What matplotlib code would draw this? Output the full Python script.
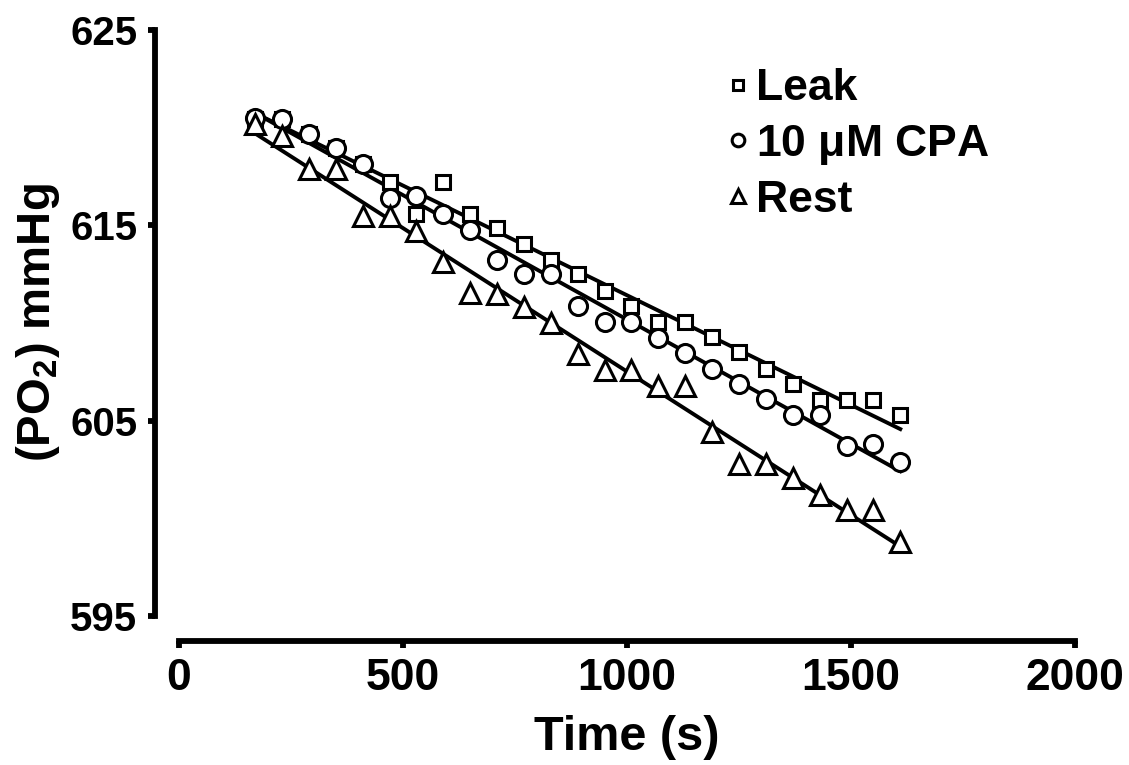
"""
Oxygen consumption traces: PO2 over time for three conditions with linear fits.
"""

import matplotlib
matplotlib.use('Agg')
import matplotlib.pyplot as plt
import numpy as np

plt.rcParams['font.family'] = ['Liberation Sans', 'DejaVu Sans']
plt.rcParams['font.weight'] = 'bold'
plt.rcParams['mathtext.default'] = 'regular'

# Data (time in s, PO2 in mmHg).
time_s = [170, 230, 290, 350, 410, 470, 530, 590, 650, 710, 770, 830, 890,
          950, 1010, 1070, 1130, 1190, 1250, 1310, 1370, 1430, 1490, 1550, 1610]
leak = [620.45, 620.45, 619.66, 618.96, 618.15, 617.24, 615.6, 617.24, 615.6,
        614.85, 614.05, 613.2, 612.5, 611.65, 610.85, 610.05, 610.05, 609.26,
        608.5, 607.66, 606.9, 606.07, 606.07, 606.07, 605.3]
cpa = [620.48, 620.45, 619.66, 618.96, 618.15, 616.4, 616.5, 615.6, 614.77,
       613.2, 612.5, 612.5, 610.85, 610.05, 610.05, 609.23, 608.46, 607.66,
       606.9, 606.1, 605.3, 605.3, 603.7, 603.8, 602.9]
rest = [620.2, 619.55, 617.9, 617.9, 615.5, 615.5, 614.7, 613.1, 611.56,
        611.5, 610.8, 610.0, 608.4, 607.6, 607.6, 606.75, 606.75, 604.4,
        602.8, 602.8, 602.05, 601.2, 600.45, 600.45, 598.8]

labels = ['Leak', r'10 $\mu$M CPA', 'Rest']
markers = ['s', 'o', '^']
msizes = [10, 13, 14]

x_ticks = [0, 500, 1000, 1500, 2000]
y_ticks = [595, 605, 615, 625]

fig = plt.figure(figsize=(11.29, 7.65), dpi=100)
ax = fig.add_axes([179/1129, 1 - 616/765, 896/1129, 586/765])

x = np.array(time_s, dtype=float)
for y, lab, mk, ms in zip([leak, cpa, rest], labels, markers, msizes):
  y = np.array(y)
  ax.plot(x, y, ls='none', marker=mk, ms=ms, mfc='white', mec='black',
          mew=2.2, label=lab, zorder=3)
  # Linear fit drawn across the sampled range.
  m, b = np.polyfit(x, y, 1)
  xf = np.array([x[0], x[-1]])
  ax.plot(xf, m*xf + b, color='black', lw=2.8, zorder=2)

ax.set_xlim(0, 2000)
ax.set_ylim(595, 625)
ax.set_xticks(x_ticks)
ax.set_yticks(y_ticks)

for side in ['top', 'right']:
  ax.spines[side].set_visible(False)
ax.spines['left'].set_position(('outward', 17))
ax.spines['bottom'].set_position(('outward', 18))
ax.spines['left'].set_linewidth(4.2)
ax.spines['bottom'].set_linewidth(4.2)
ax.tick_params(axis='both', width=4.2, length=5, pad=8)
ax.tick_params(axis='x', labelsize=32, pad=7)
ax.tick_params(axis='y', labelsize=29)

ax.set_xlabel('Time (s)', fontsize=35, fontweight='bold', labelpad=12)
ax.set_ylabel('(PO$_2$) mmHg', fontsize=34, fontweight='bold', labelpad=6)

ax.legend(loc='upper left', bbox_to_anchor=(0.589, 0.965), frameon=False,
          fontsize=32, markerscale=0.7, handlelength=0.6, handletextpad=0.1,
          labelspacing=0.3, borderaxespad=0)

fig.savefig('out.png', dpi=100)
